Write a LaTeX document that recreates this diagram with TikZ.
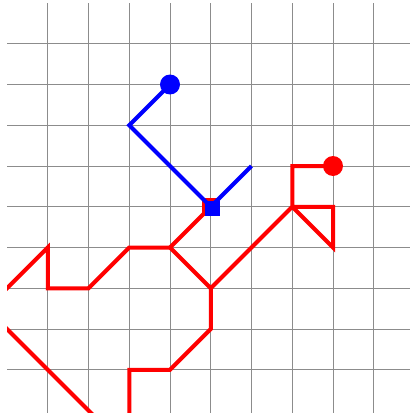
\documentclass[tikz,border=0pt]{standalone}
\usetikzlibrary{calc}
\definecolor{gridgray}{RGB}{140,140,140}
\tikzset{
  gridline/.style={draw=gridgray, line width=0.7pt},
  redpath/.style={draw={rgb,255:red,255;green,0;blue,0}, line width=2.8pt, line join=miter},
  bluepath/.style={draw={rgb,255:red,0;green,0;blue,255}, line width=2.8pt, line join=miter},
  reddot/.style={circle, fill={rgb,255:red,255;green,0;blue,0}, inner sep=0pt, minimum size=0.49cm},
  bluedot/.style={circle, fill={rgb,255:red,0;green,0;blue,255}, inner sep=0pt, minimum size=0.49cm},
  redsq/.style={rectangle, fill={rgb,255:red,255;green,0;blue,0}, inner sep=0pt, minimum size=0.45cm},
  bluesq/.style={rectangle, fill={rgb,255:red,0;green,0;blue,255}, inner sep=0pt, minimum size=0.37cm},
}
\begin{document}
\begin{tikzpicture}[x=1cm,y=-1cm]
\useasboundingbox (-0.172,-0.074) rectangle (9.889,10.061);
\begin{scope}
\clip (0,0) rectangle (9.889,10.061);
% grid
\foreach \i in {1,...,9} {
  \draw[gridline] (\i,0) -- (\i,10.061);
  \draw[gridline] (0,\i) -- (9.889,\i);
}
% named points
\coordinate (b42) at (4,2);
\coordinate (b33) at (3,3);
\coordinate (c55) at (5,5);
\coordinate (b64) at (6,4);
\coordinate (r84) at (8,4);
\coordinate (r74) at (7,4);
\coordinate (r75) at (7,5);
\coordinate (r85) at (8,5);
\coordinate (r86) at (8,6);
\coordinate (r57) at (5,7);
\coordinate (r58) at (5,8);
\coordinate (r49) at (4,9);
\coordinate (r39) at (3,9);
\coordinate (r3b) at (3,10.5);
\coordinate (r46) at (4,6);
\coordinate (r36) at (3,6);
\coordinate (r27) at (2,7);
\coordinate (r17) at (1,7);
\coordinate (r16) at (1,6);
\coordinate (rout) at (-0.5,7.5);
\coordinate (r08) at (0,8);
\coordinate (r2b) at (2.5,10.5);
% red path
\draw[redpath] (r84) -- (r74) -- (r75) -- (r85) -- (r86) -- (r75) -- (r57) -- (r58) -- (r49) -- (r39) -- (r3b);
\draw[redpath] (c55) -- (r46) -- (r57);
\draw[redpath] (r46) -- (r36) -- (r27) -- (r17) -- (r16) -- (rout) -- (r08) -- (r2b);
\node[redsq] (rsq) at (c55) {};
% blue path
\draw[bluepath] (b42) -- (b33) -- (c55) -- (b64);
\node[bluesq] (bsq) at ($(c55)+(0.05,0.05)$) {};
\node[bluedot] (bdot) at (b42) {};
\node[reddot] (rdot) at (r84) {};
\end{scope}
\end{tikzpicture}
\end{document}
